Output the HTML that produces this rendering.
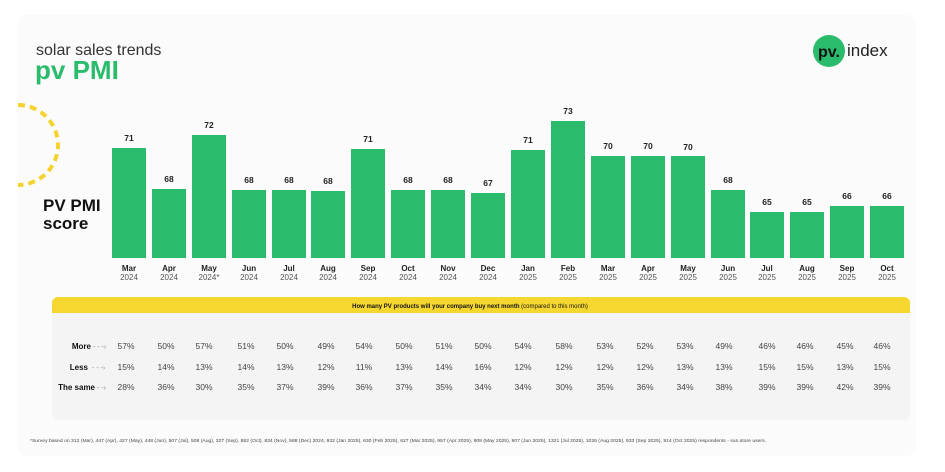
<!DOCTYPE html>
<html><head><meta charset="utf-8"><style>
html,body{margin:0;padding:0;background:#fff;}
svg{display:block;font-family:"Liberation Sans",sans-serif;}
</style></head><body>
<svg width="945" height="472" viewBox="0 0 945 472" xmlns="http://www.w3.org/2000/svg">
<rect x="18" y="15" width="898" height="441" rx="8" fill="#fbfbfb"/>
<path d="M18 105 A40 40 0 0 1 18 185" fill="none" stroke="#f5d22e" stroke-width="4" stroke-dasharray="7 5"/>
<text x="36" y="55" font-size="16" fill="#333">solar sales trends</text>
<text x="35" y="79" font-size="26" font-weight="bold" fill="#2bbb6c">pv PMI</text>
<text x="43" y="211" font-size="17" font-weight="bold" fill="#111">PV PMI</text>
<text x="43" y="229" font-size="17" font-weight="bold" fill="#111">score</text>
<circle cx="829" cy="51" r="16" fill="#2bbb6c"/>
<text x="829" y="57" font-size="16" font-weight="bold" fill="#111" text-anchor="middle">pv.</text>
<text x="847" y="56" font-size="17" fill="#222">index</text>
<g fill="#2bbb6c">
<rect x="112" y="148" width="34" height="110"/>
<rect x="152" y="189" width="34" height="69"/>
<rect x="192" y="135" width="34" height="123"/>
<rect x="232" y="190" width="34" height="68"/>
<rect x="272" y="190" width="34" height="68"/>
<rect x="311" y="191" width="34" height="67"/>
<rect x="351" y="149" width="34" height="109"/>
<rect x="391" y="190" width="34" height="68"/>
<rect x="431" y="190" width="34" height="68"/>
<rect x="471" y="193" width="34" height="65"/>
<rect x="511" y="150" width="34" height="108"/>
<rect x="551" y="121" width="34" height="137"/>
<rect x="591" y="156" width="34" height="102"/>
<rect x="631" y="156" width="34" height="102"/>
<rect x="671" y="156" width="34" height="102"/>
<rect x="711" y="190" width="34" height="68"/>
<rect x="750" y="212" width="34" height="46"/>
<rect x="790" y="212" width="34" height="46"/>
<rect x="830" y="206" width="34" height="52"/>
<rect x="870" y="206" width="34" height="52"/>
</g>
<g font-size="8.5" font-weight="bold" fill="#222" text-anchor="middle">
<text x="129" y="141">71</text><text x="169" y="182">68</text><text x="209" y="128">72</text><text x="249" y="183">68</text><text x="289" y="183">68</text><text x="328" y="184">68</text><text x="368" y="142">71</text><text x="408" y="183">68</text><text x="448" y="183">68</text><text x="488" y="186">67</text><text x="528" y="143">71</text><text x="568" y="114">73</text><text x="608" y="149">70</text><text x="648" y="149">70</text><text x="688" y="150">70</text><text x="728" y="183">68</text><text x="767" y="205">65</text><text x="807" y="205">65</text><text x="847" y="199">66</text><text x="887" y="199">66</text>
</g>
<g font-size="8" text-anchor="middle" fill="#222" font-weight="bold">
<text x="129" y="271">Mar</text><text x="169" y="271">Apr</text><text x="209" y="271">May</text><text x="249" y="271">Jun</text><text x="289" y="271">Jul</text><text x="328" y="271">Aug</text><text x="368" y="271">Sep</text><text x="408" y="271">Oct</text><text x="448" y="271">Nov</text><text x="488" y="271">Dec</text><text x="528" y="271">Jan</text><text x="568" y="271">Feb</text><text x="608" y="271">Mar</text><text x="648" y="271">Apr</text><text x="688" y="271">May</text><text x="728" y="271">Jun</text><text x="767" y="271">Jul</text><text x="807" y="271">Aug</text><text x="847" y="271">Sep</text><text x="887" y="271">Oct</text>
</g>
<g font-size="8" text-anchor="middle" fill="#555">
<text x="129" y="280">2024</text><text x="169" y="280">2024</text><text x="209" y="280">2024*</text><text x="249" y="280">2024</text><text x="289" y="280">2024</text><text x="328" y="280">2024</text><text x="368" y="280">2024</text><text x="408" y="280">2024</text><text x="448" y="280">2024</text><text x="488" y="280">2024</text><text x="528" y="280">2025</text><text x="568" y="280">2025</text><text x="608" y="280">2025</text><text x="648" y="280">2025</text><text x="688" y="280">2025</text><text x="728" y="280">2025</text><text x="767" y="280">2025</text><text x="807" y="280">2025</text><text x="847" y="280">2025</text><text x="887" y="280">2025</text>
</g>
<rect x="52" y="297" width="858" height="123" rx="6" fill="#f4f4f4"/>
<path d="M52 313 V303 A6 6 0 0 1 58 297 H904 A6 6 0 0 1 910 303 V313 Z" fill="#f5d730"/>
<text x="470" y="308" font-size="6" text-anchor="middle" fill="#111"><tspan font-weight="bold">How many PV products will your company buy next month</tspan>  (compared to this month)</text>
<g font-size="8" font-weight="bold" fill="#111" text-anchor="end">
<text x="91" y="349">More</text><text x="88" y="370">Less</text><text x="95" y="390">The same</text>
</g>
<g font-size="7" fill="#888">
<text x="93" y="349">- - -›</text><text x="92" y="370">- - -›</text><text x="97" y="390">- -›</text>
</g>
<g font-size="8.5" fill="#444" text-anchor="middle">
<text y="349"><tspan x="126">57%</tspan><tspan x="166">50%</tspan><tspan x="204">57%</tspan><tspan x="246">51%</tspan><tspan x="285">50%</tspan><tspan x="326">49%</tspan><tspan x="364">54%</tspan><tspan x="404">50%</tspan><tspan x="444">51%</tspan><tspan x="483">50%</tspan><tspan x="523">54%</tspan><tspan x="564">58%</tspan><tspan x="605">53%</tspan><tspan x="645">52%</tspan><tspan x="685">53%</tspan><tspan x="724">49%</tspan><tspan x="767">46%</tspan><tspan x="805">46%</tspan><tspan x="845">45%</tspan><tspan x="882">46%</tspan></text>
<text y="370"><tspan x="126">15%</tspan><tspan x="166">14%</tspan><tspan x="204">13%</tspan><tspan x="246">14%</tspan><tspan x="285">13%</tspan><tspan x="326">12%</tspan><tspan x="364">11%</tspan><tspan x="404">13%</tspan><tspan x="444">14%</tspan><tspan x="483">16%</tspan><tspan x="523">12%</tspan><tspan x="564">12%</tspan><tspan x="605">12%</tspan><tspan x="645">12%</tspan><tspan x="685">13%</tspan><tspan x="724">13%</tspan><tspan x="767">15%</tspan><tspan x="805">15%</tspan><tspan x="845">13%</tspan><tspan x="882">15%</tspan></text>
<text y="390"><tspan x="126">28%</tspan><tspan x="166">36%</tspan><tspan x="204">30%</tspan><tspan x="246">35%</tspan><tspan x="285">37%</tspan><tspan x="326">39%</tspan><tspan x="364">36%</tspan><tspan x="404">37%</tspan><tspan x="444">35%</tspan><tspan x="483">34%</tspan><tspan x="523">34%</tspan><tspan x="564">30%</tspan><tspan x="605">35%</tspan><tspan x="645">36%</tspan><tspan x="685">34%</tspan><tspan x="724">38%</tspan><tspan x="767">39%</tspan><tspan x="805">39%</tspan><tspan x="845">42%</tspan><tspan x="882">39%</tspan></text>
</g>
<text x="30" y="442" font-size="4.3" fill="#444" textLength="736" lengthAdjust="spacingAndGlyphs">*Survey based on 312 (Mar), 447 (Apr), 427 (May), 448 (Jun), 507 (Jul), 508 (Aug), 327 (Sep), 882 (Oct), 834 (Nov), 588 (Dec) 2024, 932 (Jan 2025), 630 (Feb 2025), 627 (Mar 2025), 957 (Apr 2025), 908 (May 2025), 907 (Jun 2025), 1321 (Jul 2025), 1026 (Aug 2025), 933 (Sep 2025), 914 (Oct 2025) respondents - sun.store users.</text>
</svg>
</body></html>
